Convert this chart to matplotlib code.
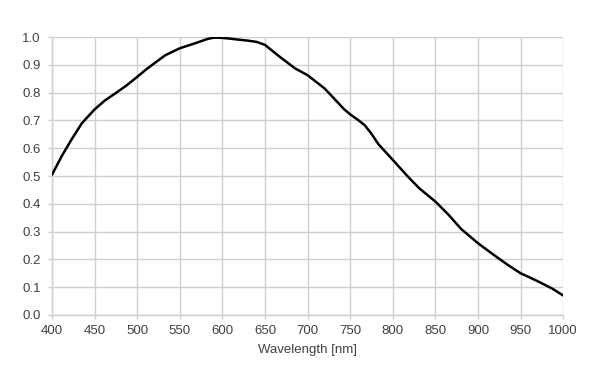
import matplotlib
matplotlib.use('Agg')
import matplotlib.pyplot as plt

# spectral response
wavelength = [400, 412, 423, 435, 450, 462, 474, 487, 500, 511, 521, 533, 550,
              568, 583, 590, 597, 608, 619, 631, 640, 650, 667, 685, 700, 720,
              743, 750, 760, 767, 775, 783, 800, 818, 831, 850, 865, 880, 900,
              919, 935, 950, 962, 973, 987, 1000]
response = [0.505, 0.575, 0.632, 0.69, 0.74, 0.772, 0.797, 0.825, 0.857, 0.885,
            0.908, 0.935, 0.96, 0.978, 0.994, 0.998, 0.998, 0.995, 0.991, 0.987,
            0.983, 0.972, 0.93, 0.888, 0.863, 0.815, 0.74, 0.722, 0.7, 0.683,
            0.652, 0.615, 0.558, 0.497, 0.456, 0.408, 0.362, 0.31, 0.258, 0.215,
            0.18, 0.15, 0.133, 0.117, 0.095, 0.07]

x_ticks = list(range(400, 1001, 50))
y_ticks = [i / 10 for i in range(11)]

plt.rcParams['font.family'] = ['Liberation Sans', 'DejaVu Sans']

fig = plt.figure(figsize=(6, 3.79), dpi=100)
ax = fig.add_axes([0.0867, 0.169, 0.852, 0.733])

grid_col = '#cfcfcf'
ax.plot(wavelength, response, color='black', lw=1.8, solid_capstyle='round',
        solid_joinstyle='round', zorder=3)

ax.set_xlim(400, 1000)
ax.set_ylim(0, 1.0)
ax.set_xticks(x_ticks)
ax.set_yticks(y_ticks)
ax.set_yticklabels([f'{v:.1f}' for v in y_ticks])
ax.grid(True, color=grid_col, lw=1.0)
ax.set_axisbelow(True)
for side in ['top', 'right']:
    ax.spines[side].set_visible(False)
for side in ['left', 'bottom']:
    ax.spines[side].set_color(grid_col)
    ax.spines[side].set_linewidth(1.0)
ax.tick_params(axis='both', colors=grid_col, length=3, width=1.0,
               labelcolor='#404040', labelsize=9.5)
ax.tick_params(axis='y', pad=5)
ax.tick_params(axis='x', pad=4)
ax.set_xlabel('Wavelength [nm]', fontsize=9.5, color='#404040', labelpad=5)

fig.savefig('out.png', dpi=100, facecolor='white')
